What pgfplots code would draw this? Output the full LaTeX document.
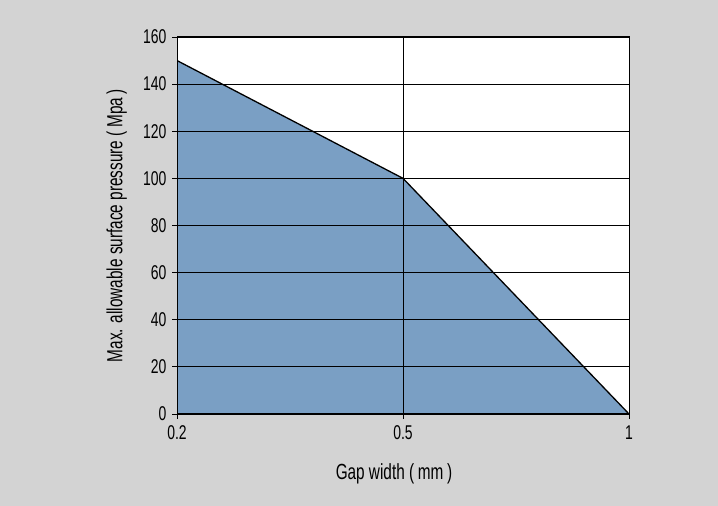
\documentclass[border=0pt]{standalone}
\usepackage{fontspec}
\setmainfont{Liberation Sans}[FakeStretch=0.7]
\usepackage{pgfplots}
\pgfplotsset{compat=1.18}
\definecolor{bggray}{RGB}{211,211,211}
\definecolor{fillblue}{RGB}{122,159,196}
\begin{document}
\begin{tikzpicture}[x=1bp,y=1bp]
\fill[bggray] (0,0) rectangle (718,506);
\begin{axis}[
  at={(177bp,92bp)}, anchor=south west,
  scale only axis, width=452bp, height=377bp,
  xmin=0, xmax=2, ymin=0, ymax=160,
  xtick={0,1,2}, xticklabels={0.2,0.5,1},
  ytick={0,20,...,160},
  xtick pos=bottom, ytick pos=left,
  tick align=outside, major tick length=5bp,
  xmajorgrids, ymajorgrids,
  grid style={black, line width=0.8bp},
  axis line style={black, line width=1bp},
  tick style={black, line width=0.8bp},
  axis background/.style={fill=white},
  axis on top,
  /pgf/number format/assume math mode=true,
  tick label style={font=\fontsize{20}{22}\selectfont},
  label style={font=\fontsize{22}{24}\selectfont},
  xlabel={Gap width (\,mm\,)},
  ylabel={Max. allowable surface pressure (\,Mpa\,)},
  xticklabel style={yshift=-3bp},
  yticklabel style={xshift=-2bp},
  xlabel style={at={(axis description cs:0.48,-0.175)}, anchor=base, inner sep=0pt},
  ylabel style={at={(axis description cs:-0.1106,0.5)}, anchor=south, inner sep=0pt},
]
\addplot[fill=fillblue, draw=black, line width=1.3bp] coordinates {(0,150) (1,100) (2,0)} \closedcycle;
\end{axis}
\end{tikzpicture}
\end{document}
